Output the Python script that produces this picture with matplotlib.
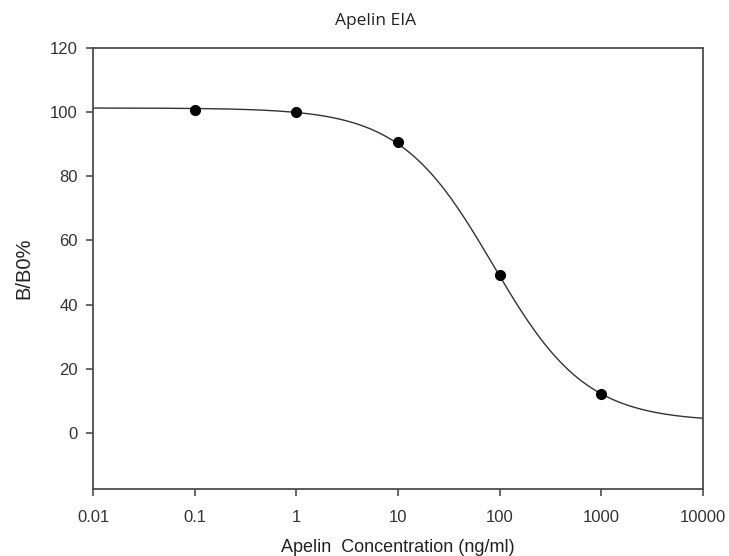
import numpy as np
import matplotlib
matplotlib.use("Agg")
import matplotlib.pyplot as plt

# measured standards
conc = [0.1, 1, 10, 100, 1000]          # ng/ml
bb0 = [100.7, 100.1, 90.6, 49.2, 12.1]  # B/B0 %

# four-parameter logistic fit
top, bottom, ec50, hill = 101.3, 3.5, 86.0, 0.95

xticks = [0.01, 0.1, 1, 10, 100, 1000, 10000]
xticklabels = ["0.01", "0.1", "1", "10", "100", "1000", "10000"]
yticks = [0, 20, 40, 60, 80, 100, 120]

plt.rcParams["font.family"] = ["Liberation Sans", "DejaVu Sans"]
axis_col = "#4d4d4d"

fig = plt.figure(figsize=(7.29, 5.56), dpi=100)
ax = fig.add_axes([93 / 729, 1 - 489 / 556, (703 - 93) / 729, (489 - 48) / 556])

xs = np.logspace(-2, 4, 400)
fit = bottom + (top - bottom) / (1 + (xs / ec50) ** hill)
ax.plot(xs, fit, color="#333333", linewidth=1.0)
ax.plot(conc, bb0, "o", color="black", markersize=7)

ax.set_xscale("log")
ax.set_xlim(0.01, 10000)
ax.set_ylim(-17.5, 120)
ax.set_xticks(xticks)
ax.set_xticklabels(xticklabels)
ax.xaxis.set_minor_locator(matplotlib.ticker.NullLocator())
ax.set_yticks(yticks)

for s in ax.spines.values():
    s.set_color(axis_col)
    s.set_linewidth(1.3)
ax.tick_params(direction="out", length=5, width=1.2, color=axis_col,
               labelsize=12, labelcolor="#333333", top=False, right=False)
ax.tick_params(axis="x", pad=10)
ax.tick_params(axis="y", pad=6)

ax.set_ylabel("B/B0%", fontsize=14.5, color="#222222", labelpad=12)
ax.set_xlabel("Apelin  Concentration (ng/ml)", fontsize=13, color="#222222", labelpad=10)
fig.text(376 / 729, 1 - 21 / 556, "Apelin EIA", family="Open Sans", fontsize=12.5,
         color="#222222", ha="center", va="center")

fig.savefig("out.png", dpi=100)
